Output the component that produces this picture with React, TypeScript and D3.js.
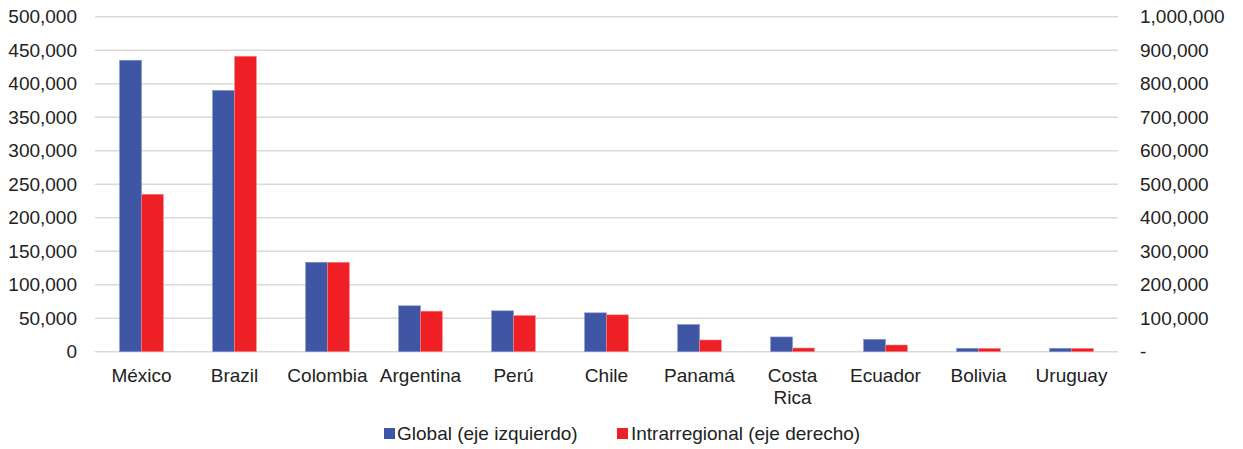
import * as d3 from 'd3'

const countries = ['México', 'Brazil', 'Colombia', 'Argentina', 'Perú', 'Chile', 'Panamá', 'Costa Rica', 'Ecuador', 'Bolivia', 'Uruguay']
// left axis
const globalValues = [435000, 390000, 133500, 68500, 61000, 58000, 40500, 22000, 18500, 5000, 5000]
// right axis
const intraValues = [470000, 882000, 267000, 121000, 108000, 110000, 35000, 11000, 20000, 10000, 10000]
const leftTicks = [0, 50000, 100000, 150000, 200000, 250000, 300000, 350000, 400000, 450000, 500000]
const rightTicks = [0, 100000, 200000, 300000, 400000, 500000, 600000, 700000, 800000, 900000, 1000000]
const legendLabels = ['Global (eje izquierdo)', 'Intrarregional (eje derecho)']

const BLUE = '#3f56a5'
const RED = '#ee1f25'
const FONT = '"Liberation Sans", Arial, sans-serif'

export default function App(){
  const width = 1243, height = 449
  const left = 95, right = 1118, top = 16.7, bottom = 351.7

  const x = d3.scaleBand<string>().domain(countries).range([left, right]).paddingInner(0.53).paddingOuter(0.265)
  const yL = d3.scaleLinear().domain([0, 500000]).range([bottom, top])
  const yR = d3.scaleLinear().domain([0, 1000000]).range([bottom, top])
  const fmt = d3.format(',')
  const bw = x.bandwidth() / 2

  return (
    <svg width={width} height={height} style={{ position: 'absolute', left: 0, top: 0, background: '#fff' }} fontFamily={FONT}>
      {/* grid */}
      <g stroke="#d9d9d9" strokeWidth={1.5}>
        {leftTicks.map(t => <line key={t} x1={left} x2={right} y1={yL(t)} y2={yL(t)} />)}
      </g>
      {/* left axis labels */}
      <g fontSize={19} fill="#222" textAnchor="end">
        {leftTicks.map(t => <text key={t} x={77} y={yL(t)} dy="0.35em">{fmt(t)}</text>)}
      </g>
      {/* right axis labels */}
      <g fontSize={19} fill="#222" textAnchor="start">
        {rightTicks.map(t => <text key={t} x={1140} y={yR(t)} dy="0.35em">{t === 0 ? '-' : fmt(t)}</text>)}
      </g>
      {/* bars */}
      <g>
        {countries.map((c, i) => (
          <g key={c}>
            <rect x={x(c)!} y={yL(globalValues[i])} width={bw} height={bottom - yL(globalValues[i])} fill={BLUE} stroke="#7f8fd0" strokeWidth={0.6} />
            <rect x={x(c)! + bw} y={yR(intraValues[i])} width={bw} height={bottom - yR(intraValues[i])} fill={RED} stroke="#f58a8d" strokeWidth={0.6} />
          </g>
        ))}
      </g>
      {/* category labels */}
      <g fontSize={19} fill="#222" textAnchor="middle">
        {countries.map(c => {
          const cx = x(c)! + x.bandwidth() / 2
          const parts = c === 'Costa Rica' ? ['Costa', 'Rica'] : [c]
          return (
            <text key={c} x={cx} y={382}>
              {parts.map((p, k) => <tspan key={p} x={cx} dy={k === 0 ? 0 : 22}>{p}</tspan>)}
            </text>
          )
        })}
      </g>
      {/* legend */}
      <g fontSize={19} fill="#222">
        <rect x={384} y={428} width={11} height={11} fill={BLUE} />
        <text x={397} y={440}>{legendLabels[0]}</text>
        <rect x={617} y={428} width={11} height={11} fill={RED} />
        <text x={631} y={440}>{legendLabels[1]}</text>
      </g>
    </svg>
  )
}
